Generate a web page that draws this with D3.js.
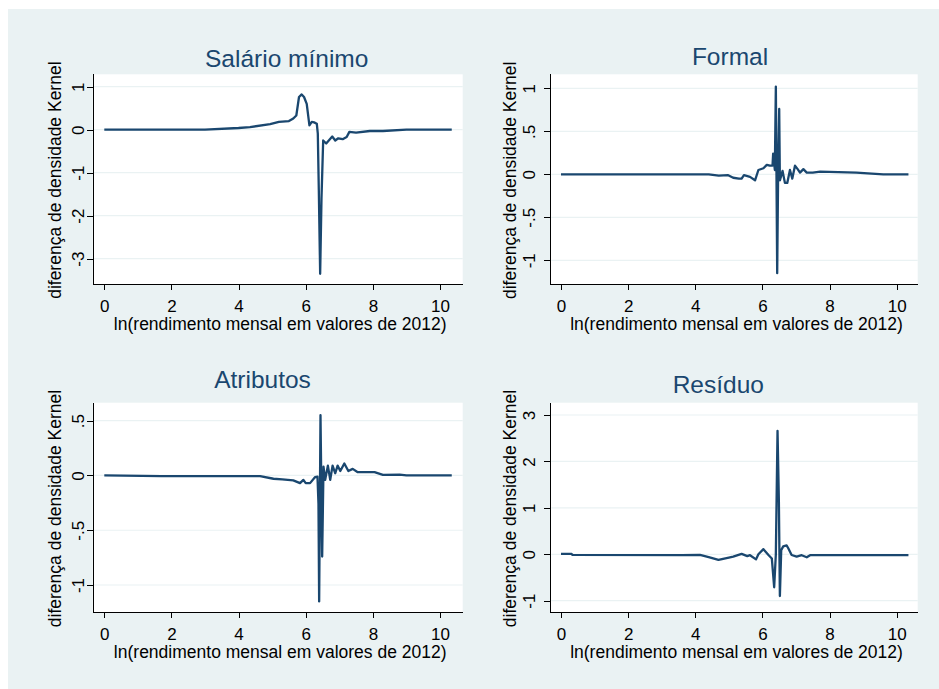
<!DOCTYPE html>
<head>
<meta charset="utf-8">
<title>diferença de densidade Kernel</title>
<script src="https://d3js.org/d3.v7.min.js"></script>
<style>
  body { margin: 0; background: #fff; }
  svg { font-family: "Liberation Sans", Arial, sans-serif; }
  .grid-line { stroke: #eaf2f3; stroke-width: 1.2px; }
  .axis path, .axis line { stroke: #000; stroke-width: 1px; shape-rendering: crispEdges; }
  .axis-title { fill: #000; font-size: 17.5px; }
  .panel-title { fill: #1a476f; font-size: 24.5px; }
  .curve { fill: none; stroke: #1a476f; stroke-width: 2.3px; stroke-linejoin: round; }
</style>
</head>
<body>
<script>
// panel titles
var titles = ["Salário mínimo", "Formal", "Atributos", "Resíduo"];

// ln(rendimento) values and kernel density difference
var salarioX = [0, 3.0, 4.0, 4.34, 4.94, 5.2, 5.5, 5.63, 5.72, 5.8, 5.88, 5.95, 6.03, 6.11, 6.18, 6.25, 6.33, 6.36, 6.39, 6.43, 6.47, 6.52, 6.61, 6.7, 6.79, 6.88, 6.97, 7.1, 7.22, 7.3, 7.5, 7.91, 8.3, 9.0, 10.35];
var salarioY = [0, 0, 0.04, 0.06, 0.13, 0.18, 0.2, 0.26, 0.33, 0.76, 0.82, 0.76, 0.6, 0.1, 0.18, 0.17, 0.14, -0.09, -1.4, -3.35, -1.6, -0.25, -0.32, -0.24, -0.16, -0.25, -0.2, -0.22, -0.17, -0.05, -0.07, -0.03, -0.03, 0, 0];

var formalX = [0, 4.14, 4.4, 4.7, 4.98, 5.13, 5.3, 5.38, 5.45, 5.63, 5.78, 5.88, 6.03, 6.13, 6.22, 6.3, 6.32, 6.37, 6.40, 6.44, 6.47, 6.50, 6.52, 6.6, 6.67, 6.74, 6.82, 6.89, 6.97, 7.05, 7.12, 7.22, 7.32, 7.5, 7.72, 8.8, 9.6, 10.35];
var formalY = [0, 0, 0, -0.015, -0.01, -0.04, -0.05, -0.05, -0.01, -0.03, -0.07, 0.05, 0.07, 0.11, 0.1, 0.1, 0.24, 0.05, 1.02, -1.15, 0.1, 0.76, -0.07, 0.04, -0.1, -0.1, 0.05, -0.05, 0.1, 0.06, 0.02, 0.06, 0.02, 0.02, 0.03, 0.02, 0, 0];

var atributosX = [0, 1.7, 4.64, 5.04, 5.3, 5.63, 5.83, 5.93, 6.0, 6.13, 6.28, 6.35, 6.38, 6.40, 6.44, 6.49, 6.53, 6.58, 6.66, 6.73, 6.8, 6.88, 6.95, 7.03, 7.15, 7.27, 7.4, 7.55, 8.05, 8.3, 8.8, 9.0, 10.35];
var atributosY = [0, -0.006, -0.006, -0.03, -0.035, -0.045, -0.07, -0.04, -0.07, -0.07, -0.015, -0.01, -0.26, -1.15, 0.55, -0.74, 0.08, -0.04, 0.09, -0.04, 0.09, 0.02, 0.09, 0.04, 0.11, 0.04, 0.06, 0.03, 0.03, 0.005, 0.008, 0, 0];

var residuoX = [0, 0.3, 0.35, 3.6, 4.14, 4.4, 4.69, 5.0, 5.13, 5.38, 5.55, 5.63, 5.81, 5.88, 6.03, 6.18, 6.28, 6.35, 6.40, 6.45, 6.49, 6.52, 6.56, 6.62, 6.72, 6.77, 6.87, 7.02, 7.17, 7.32, 7.42, 8.01, 10.35];
var residuoY = [0.01, 0.01, -0.015, -0.02, -0.015, -0.06, -0.12, -0.07, -0.05, 0.01, -0.04, -0.02, -0.11, 0.0, 0.11, -0.015, -0.09, -0.71, 0.0, 2.66, 1.17, -0.9, 0.09, 0.17, 0.19, 0.13, -0.015, -0.05, -0.02, -0.065, -0.02, -0.02, -0.02];

// tick values
var xTicks = [0, 2, 4, 6, 8, 10];
var salarioTicks = [1, 0, -1, -2, -3];
var formalTicks = [1, 0.5, 0, -0.5, -1];
var atributosTicks = [0.5, 0, -0.5, -1];
var residuoTicks = [3, 2, 1, 0, -1];

var xLabel = "ln(rendimento mensal em valores de 2012)";
var yLabel = "diferença de densidade Kernel";

var width = 939, height = 689;

var svg = d3.select("body").append("svg")
    .attr("width", width)
    .attr("height", height);

svg.append("rect")
    .attr("x", 8).attr("y", 9)
    .attr("width", width - 8).attr("height", height - 9)
    .attr("fill", "#eaf2f3");

// layout of the four panels (plot region, tick pixel anchors, text positions)
var panels = [
  {title: titles[0], xs: salarioX, ys: salarioY, yt: salarioTicks,
   left: 92.7, right: 462.7, top: 74.3, bottom: 284,
   x0: 104.3, x10: 440, yDom: [1, -3], yRng: [86.7, 258.7],
   titleX: 286.7, titleY: 66.7, ytX: 61, tickX: 84},
  {title: titles[1], xs: formalX, ys: formalY, yt: formalTicks,
   left: 550.3, right: 917.7, top: 74.3, bottom: 284.3,
   x0: 561, x10: 896.7, yDom: [1, -1], yRng: [88.3, 260.3],
   titleX: 730, titleY: 65, ytX: 516, tickX: 535},
  {title: titles[2], xs: atributosX, ys: atributosY, yt: atributosTicks,
   left: 92.7, right: 462.7, top: 402.7, bottom: 612.3,
   x0: 104.3, x10: 440, yDom: [0.5, -1], yRng: [420.7, 585],
   titleX: 262.5, titleY: 387.7, ytX: 61, tickX: 84},
  {title: titles[3], xs: residuoX, ys: residuoY, yt: residuoTicks,
   left: 550.3, right: 917.7, top: 402.7, bottom: 612.3,
   x0: 561, x10: 896.7, yDom: [3, -1], yRng: [415, 600.7],
   titleX: 718.3, titleY: 392.7, ytX: 516, tickX: 535}
];

// Stata style: .5 and -.5 without the leading zero
function stataFormat(d) {
  return String(d).replace(/^(-?)0\./, "$1.");
}

panels.forEach(function(p) {
  var x = d3.scaleLinear().domain([0, 10]).range([p.x0, p.x10]);
  var y = d3.scaleLinear().domain(p.yDom).range(p.yRng);

  var g = svg.append("g");

  // white plot region
  g.append("rect")
    .attr("x", p.left).attr("y", p.top)
    .attr("width", p.right - p.left).attr("height", p.bottom - p.top)
    .attr("fill", "#fff");

  // horizontal grid
  g.selectAll(".grid-line")
    .data(p.yt)
    .enter().append("line")
    .attr("class", "grid-line")
    .attr("x1", p.left + 1).attr("x2", p.right)
    .attr("y1", function(d) { return y(d); })
    .attr("y2", function(d) { return y(d); });

  // curve
  var pts = p.xs.map(function(v, i) { return [v, p.ys[i]]; });
  var line = d3.line()
    .x(function(d) { return x(d[0]); })
    .y(function(d) { return y(d[1]); });
  g.append("path")
    .datum(pts)
    .attr("class", "curve")
    .attr("d", line);

  // x axis
  var xAxis = g.append("g")
    .attr("class", "axis")
    .attr("transform", "translate(0," + p.bottom + ")")
    .call(d3.axisBottom(x).tickValues(xTicks).tickSize(6).tickSizeOuter(0).tickFormat(d3.format("d")));
  xAxis.select(".domain").attr("d", "M" + p.left + ",0.5H" + p.right);
  xAxis.selectAll("text")
    .attr("y", 27.7).attr("dy", 0).attr("fill", "#000")
    .style("font-size", "17px")
    .style("font-family", "'Liberation Sans', Arial, sans-serif");

  // y axis
  var yAxis = g.append("g")
    .attr("class", "axis")
    .attr("transform", "translate(" + p.left + ",0)")
    .call(d3.axisLeft(y).tickValues(p.yt).tickSize(6).tickSizeOuter(0).tickFormat(stataFormat));
  yAxis.select(".domain").attr("d", "M0.5," + p.top + "V" + p.bottom);
  yAxis.selectAll("text")
    .attr("x", 0).attr("y", 0).attr("dy", 0)
    .attr("fill", "#000")
    .attr("text-anchor", "middle")
    .style("font-size", "17px")
    .style("font-family", "'Liberation Sans', Arial, sans-serif")
    .attr("transform", "translate(" + (p.tickX - p.left) + ",0) rotate(-90)");

  // titles
  g.append("text")
    .attr("class", "panel-title")
    .attr("x", p.titleX).attr("y", p.titleY)
    .attr("text-anchor", "middle")
    .text(p.title);

  g.append("text")
    .attr("class", "axis-title")
    .attr("x", (p.left + p.right) / 2 + 2.5)
    .attr("y", p.bottom + 46)
    .attr("text-anchor", "middle")
    .text(xLabel);

  g.append("text")
    .attr("class", "axis-title")
    .attr("text-anchor", "middle")
    .attr("transform", "translate(" + p.ytX + "," + ((p.top + p.bottom) / 2 + 1) + ") rotate(-90)")
    .text(yLabel);
});
</script>
</body>
